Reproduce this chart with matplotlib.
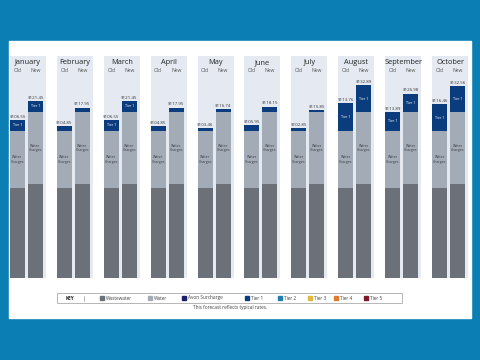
import matplotlib
matplotlib.use('Agg')
import matplotlib.pyplot as plt
from matplotlib.patches import Rectangle

plt.rcParams['font.family'] = ['Open Sans', 'DejaVu Sans']

months = ['January', 'February', 'March', 'April', 'May', 'June',
          'July', 'August', 'September', 'October']
old_wastewater = [61.2, 61.2, 61.2, 61.2, 61.2, 61.2, 61.2, 61.2, 61.2, 61.2]
old_water = [38.8, 38.8, 38.8, 38.8, 38.8, 38.8, 38.8, 38.8, 38.8, 38.8]
old_tier1 = [7.5, 3.6, 7.5, 3.6, 2.2, 3.9, 1.8, 18.8, 12.9, 18.2]
new_wastewater = [63.9, 63.9, 63.9, 63.9, 63.9, 63.9, 63.9, 63.9, 63.9, 63.9]
new_water = [49.0, 49.0, 49.0, 49.0, 49.0, 49.0, 49.0, 49.0, 49.0, 49.0]
new_tier1 = [7.5, 3.0, 7.5, 3.0, 1.8, 3.7, 1.4, 18.2, 12.5, 17.5]
old_labels = ['$106.55', '$104.85', '$106.55', '$104.85', '$103.46',
              '$105.95', '$102.85', '$113.76', '$113.89', '$116.46']
new_labels = ['$121.45', '$117.95', '$121.45', '$117.95', '$116.74',
              '$118.15', '$115.85', '$132.89', '$126.98', '$132.56']
key_names = ['Wastewater', 'Water', 'Avon Surcharge', 'Tier 1', 'Tier 2',
             'Tier 3', 'Tier 4', 'Tier 5']
key_colors = ['#6b7079', '#a3abb6', '#1b1f6b', '#0b3d7e', '#1f7fb4',
              '#e3b73b', '#e07b2b', '#7b1a2b']

c_ww, c_water, c_t1 = '#6b7079', '#a3abb6', '#0b3d7e'
c_panel = '#e5eaf2'

W, H = 480, 360
fig = plt.figure(figsize=(W / 100, H / 100), dpi=100)
fig.patch.set_facecolor('#0b7fb4')


def fx(px):
    return px / W


def fy(py):
    return 1 - py / H


fig.add_artist(Rectangle((fx(9), fy(318)), fx(462), 277 / H,
                         transform=fig.transFigure, color='white', zorder=-1))

ax = fig.add_axes([fx(9), fy(278), fx(462), 237 / H])
ax.set_facecolor('none')
ax.axis('off')
ax.set_xlim(-0.405, 9.446)
ax.set_ylim(0, 161.2)

x = list(range(len(months)))
x_old = [i - 0.224 for i in x]
x_new = [i + 0.16 for i in x]
bw = 0.32

ax.bar(x, 151, width=0.768, color=c_panel, zorder=0)
ax.axhline(0, color='#c8cdd3', lw=0.5, ls=':', zorder=0)

for xs, ww, wa, t1, labs in [(x_old, old_wastewater, old_water, old_tier1, old_labels),
                             (x_new, new_wastewater, new_water, new_tier1, new_labels)]:
    ax.bar(xs, ww, width=bw, color=c_ww, zorder=2)
    ax.bar(xs, wa, width=bw, bottom=ww, color=c_water, zorder=2)
    base = [a + b for a, b in zip(ww, wa)]
    ax.bar(xs, t1, width=bw, bottom=base, color=c_t1, zorder=2)
    for xi, b, w, t, lab in zip(xs, ww, wa, t1, labs):
        ax.text(xi, b + w / 2, 'Water\nCharges', ha='center', va='center',
                fontsize=2.6, color='#3c4048', linespacing=1.0, zorder=3)
        if t > 6:
            ax.text(xi, b + w + t / 2, 'Tier 1', ha='center', va='center',
                    fontsize=2.6, color='white', zorder=3)
        ax.text(xi, b + w + t + 0.8, lab, ha='center', va='bottom',
                fontsize=3.2, color='#333333', zorder=3)

for i, m in enumerate(months):
    ax.text(i, 146.5, m, ha='center', va='center', fontsize=5.3, color='#222222')
    ax.text(x_old[i], 141.0, 'Old', ha='center', va='center', fontsize=3.6, color='#555555')
    ax.text(x_new[i], 141.0, 'New', ha='center', va='center', fontsize=3.6, color='#555555')

# key box
fig.add_artist(Rectangle((fx(57), fy(303)), fx(345), 10 / H, transform=fig.transFigure,
                         facecolor='white', edgecolor='#9a9a9a', lw=0.5))
fig.text(fx(70), fy(298), 'KEY', fontsize=3.4, fontweight='bold', ha='center', va='center',
         color='#222222')
fig.add_artist(plt.Line2D([fx(84), fx(84)], [fy(295.5), fy(300.5)], transform=fig.transFigure,
                          color='#9a9a9a', lw=0.5))
key_x = [102, 150, 184, 247, 280, 310, 336, 366]
for kx, name, col in zip(key_x, key_names, key_colors):
    fig.add_artist(Rectangle((fx(kx - 2), fy(300)), fx(4), 4 / H,
                             transform=fig.transFigure, color=col))
    fig.text(fx(kx + 4), fy(298), name, fontsize=3.4, ha='left', va='center', color='#444444')

fig.text(fx(230), fy(308), 'This forecast reflects typical rates.', fontsize=3.4,
         ha='center', va='center', color='#444444')

fig.savefig('out.png', dpi=100, facecolor=fig.get_facecolor())
